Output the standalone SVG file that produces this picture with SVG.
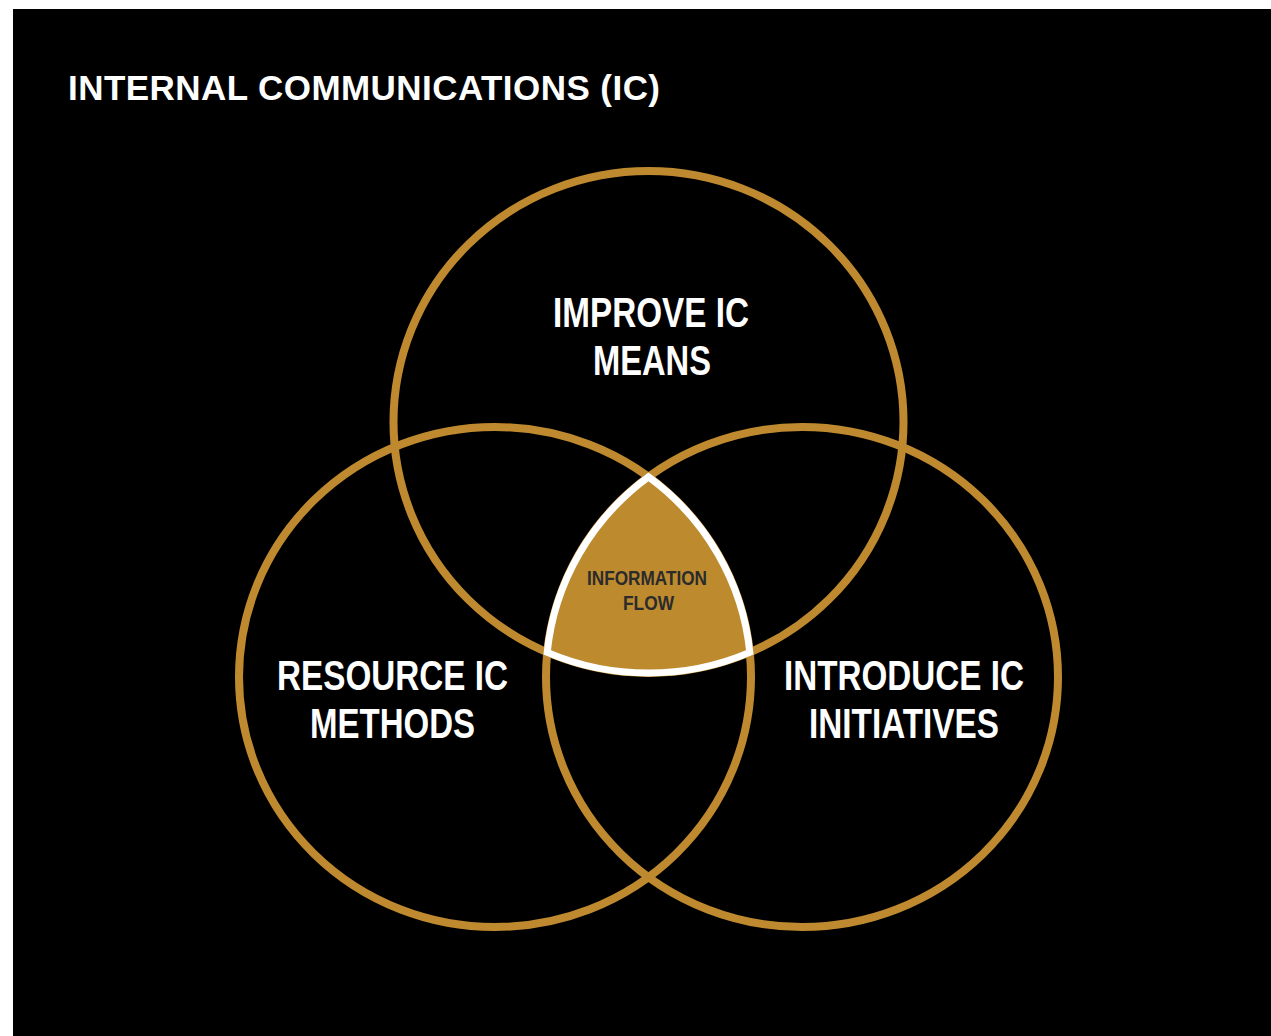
<svg xmlns="http://www.w3.org/2000/svg" width="1271" height="1036" viewBox="0 0 1271 1036">
  <style>
    .ring { fill: none; stroke: #BF8A2F; stroke-width: 8; }
    .core { fill: #BD8A2E; stroke: #FFFFFF; stroke-width: 7; stroke-linejoin: miter; }
    .title { font-family: "Liberation Sans", Arial, sans-serif; font-weight: bold; font-size: 35px; fill: #FFFFFF; }
    .lbl { font-family: "Liberation Sans", Arial, sans-serif; font-weight: bold; font-size: 43px; fill: #FFFFFF; text-anchor: middle; }
    .core-lbl { font-family: "Liberation Sans", Arial, sans-serif; font-weight: bold; font-size: 21px; fill: #2B2B2B; text-anchor: middle; }
  </style>
  <rect x="0" y="0" width="1271" height="1036" fill="#FFFFFF"/>
  <rect x="13" y="9" width="1258" height="1027" fill="#000000"/>
  <text class="title" x="68" y="100" textLength="592" lengthAdjust="spacing">INTERNAL COMMUNICATIONS (IC)</text>

  <g id="connectors"></g>

  <g id="node-improve">
    <ellipse class="ring" cx="648.5" cy="422" rx="255" ry="251"/>
    <text class="lbl" x="651" y="327" textLength="196" lengthAdjust="spacingAndGlyphs">IMPROVE IC</text>
    <text class="lbl" x="652" y="375" textLength="118" lengthAdjust="spacingAndGlyphs">MEANS</text>
  </g>
  <g id="node-resource">
    <ellipse class="ring" cx="495" cy="677" rx="256" ry="250"/>
    <text class="lbl" x="392.5" y="690" textLength="231" lengthAdjust="spacingAndGlyphs">RESOURCE IC</text>
    <text class="lbl" x="392.5" y="738" textLength="165" lengthAdjust="spacingAndGlyphs">METHODS</text>
  </g>
  <g id="node-introduce">
    <ellipse class="ring" cx="802" cy="677" rx="256" ry="250"/>
    <text class="lbl" x="904" y="690" textLength="240" lengthAdjust="spacingAndGlyphs">INTRODUCE IC</text>
    <text class="lbl" x="904" y="738" textLength="190" lengthAdjust="spacingAndGlyphs">INITIATIVES</text>
  </g>
  <g id="node-information-flow">
    <path class="core" d="M 648.5 476.9 A 256 250 0 0 0 547.2 652.4 A 255 251 0 0 0 749.8 652.4 A 256 250 0 0 0 648.5 476.9 Z"/>
    <text class="core-lbl" x="647" y="585" textLength="120" lengthAdjust="spacingAndGlyphs">INFORMATION</text>
    <text class="core-lbl" x="648.5" y="610" textLength="51" lengthAdjust="spacingAndGlyphs">FLOW</text>
  </g>
</svg>
